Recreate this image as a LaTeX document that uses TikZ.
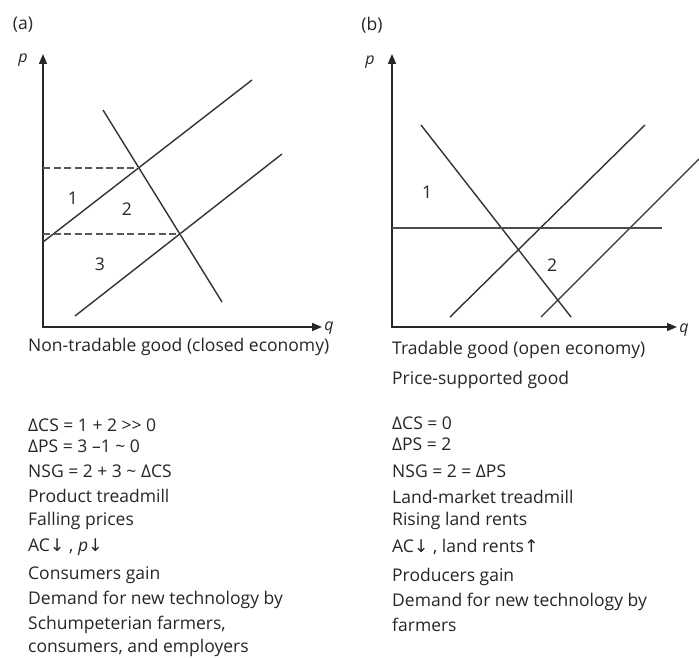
\documentclass[tikz,border=0pt]{standalone}
\usepackage{fontspec}
\setmainfont{Open Sans}
\newfontfamily\symf{DejaVu Sans}
\usetikzlibrary{arrows.meta,intersections}
\begin{document}
\begin{tikzpicture}[x=1pt,y=-1pt,
  curve/.style={draw=black!80, line width=1.4pt},
  axis/.style={draw=black!85, line width=1.4pt, {Triangle[length=10pt,width=8pt]}-{Triangle[length=10pt,width=8pt]}},
  dashline/.style={draw=black!65, line width=1.6pt, dash pattern=on 7pt off 3.5pt},
  txt/.style={anchor=west, inner sep=0pt, text=black!85, font=\fontsize{17.5}{20}\selectfont},
  num/.style={inner sep=0pt, text=black!85, font=\fontsize{17.5}{20}\selectfont},
  lbl/.style={inner sep=0pt, text=black!85, font=\fontsize{16}{18}\selectfont\itshape}]
\useasboundingbox[fill=white] (0,0) rectangle (699,658);

% ---------------- panel (a)
\node[num] (alab) at (23,25) {(a)};
\coordinate (aO) at (43,327);
\coordinate (aP) at (43,54);
\coordinate (aQ) at (322,327);
\draw[axis] (aP) -- (aO) -- (aQ);
\node[lbl] (ap) at (23,60) {p};
\node[lbl] (aq) at (329,328) {q};
\coordinate (as1a) at (43,242);
\coordinate (as1b) at (252,80);
\coordinate (as2a) at (75,316);
\coordinate (as2b) at (282,154);
\coordinate (ada) at (103,110);
\coordinate (adb) at (222,302);
\draw[curve, name path=as1] (as1a) -- (as1b);
\draw[curve, name path=as2] (as2a) -- (as2b);
\draw[curve, name path=ad] (ada) -- (adb);
\path[name intersections={of=as1 and ad, by=aE1}];
\path[name intersections={of=as2 and ad, by=aE2}];
\draw[dashline] (aE1 -| aO) -- (aE1);
\draw[dashline] (aE2 -| aO) -- (aE2);
\node[num] (a1) at (73,198) {1};
\node[num] (a2) at (127,209) {2};
\node[num] (a3) at (100,264) {3};

\node[txt] (at) at (28,347) {Non-tradable good (closed economy)};
\node[txt] (al1) at (28,425) {ΔCS = 1 + 2 >{}> 0};
\node[txt] (al2) at (28,446) {ΔPS = 3 –1 \char`~{} 0};
\node[txt] (al3) at (28,471) {NSG = 2 + 3 \char`~{} ΔCS};
\node[txt] (al4) at (28,496) {Product treadmill};
\node[txt] (al5) at (28,521) {Falling prices};
\node[txt] (al6) at (28,547) {AC{\symf ↓} , \textit{p}{\symf ↓}};
\node[txt] (al7) at (28,575) {Consumers gain};
\node[txt] (al8) at (28,600) {Demand for new technology by};
\node[txt] (al9) at (28,625) {Schumpeterian farmers,};
\node[txt] (al10) at (28,648) {consumers, and employers};

% ---------------- panel (b)
\node[num] (blab) at (372,25) {(b)};
\coordinate (bO) at (392,327);
\coordinate (bP) at (392,54);
\coordinate (bQ) at (677,327);
\draw[axis] (bP) -- (bO) -- (bQ);
\node[lbl] (bp) at (370,62) {p};
\node[lbl] (bq) at (684,330) {q};
\coordinate (bda) at (421,125);
\coordinate (bdb) at (571,317);
\coordinate (bs1a) at (450,317);
\coordinate (bs1b) at (645,125);
\coordinate (bs2a) at (541,317);
\coordinate (bs2b) at (699,159);
\coordinate (bh) at (662,228);
\draw[curve] (bda) -- (bdb);
\draw[curve] (bs1a) -- (bs1b);
\draw[curve] (bs2a) -- (bs2b);
\draw[curve, draw=black!70] (bh -| bO) -- (bh);
\node[num] (b1) at (427,192) {1};
\node[num] (b2) at (552,265) {2};

\node[txt] (bt) at (392,350) {Tradable good (open economy)};
\node[txt] (bt2) at (392,380) {Price-supported good};
\node[txt] (bl1) at (392,423) {ΔCS = 0};
\node[txt] (bl2) at (392,444) {ΔPS = 2};
\node[txt] (bl3) at (392,471) {NSG = 2 = ΔPS};
\node[txt] (bl4) at (392,497) {Land-market treadmill};
\node[txt] (bl5) at (392,521) {Rising land rents};
\node[txt] (bl6) at (392,547) {AC{\symf ↓} , land rents{\symf ↑}};
\node[txt] (bl7) at (392,577) {Producers gain};
\node[txt] (bl8) at (392,602) {Demand for new technology by};
\node[txt] (bl9) at (392,625) {farmers};
\end{tikzpicture}
\end{document}
